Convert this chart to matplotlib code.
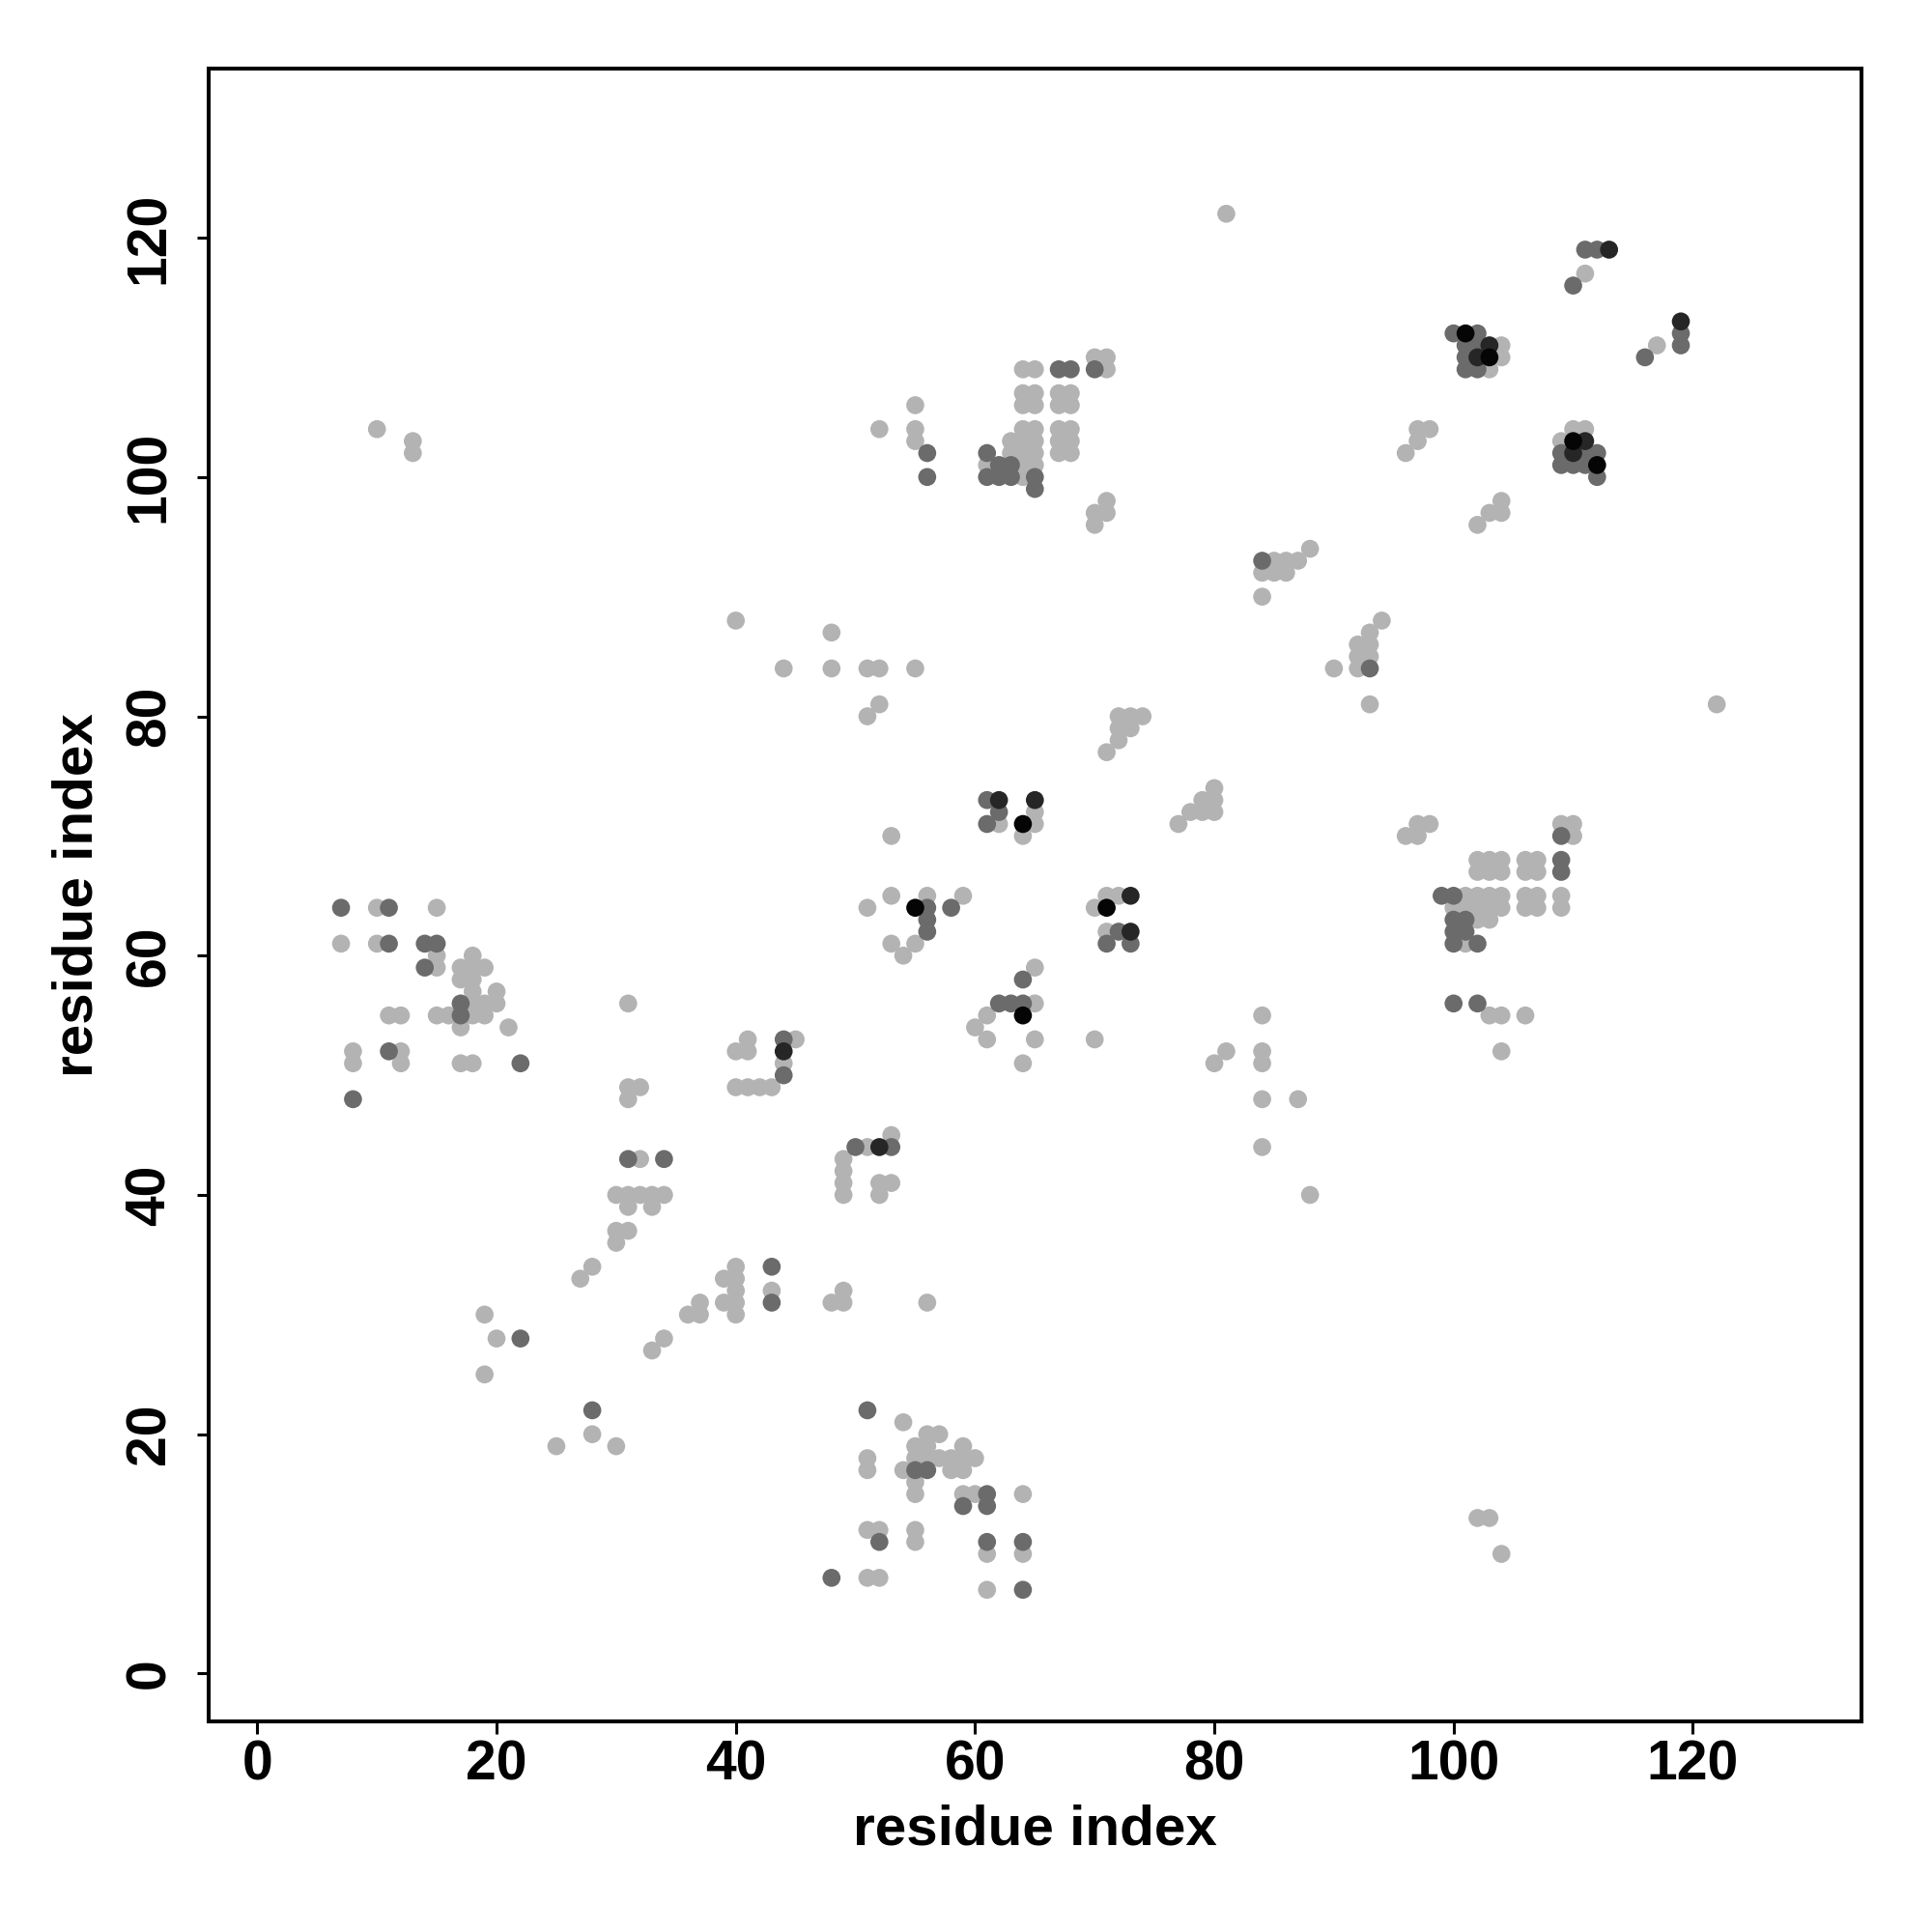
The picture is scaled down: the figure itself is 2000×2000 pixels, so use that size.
import matplotlib
matplotlib.use("Agg")
import matplotlib.pyplot as plt

plt.rcParams['font.family'] = ['Liberation Sans', 'DejaVu Sans']
plt.rcParams['font.weight'] = 'bold'

# Contacts by level (x = residue i, y = residue j)
light = [
    (81,122),(111,117),(104,111),(104,110),(103,109),(117,111),
    (110,104),(111,104),(109,103),(97,104),(98,104),(97,103),(96,102),
    (104,98),(103,97),(104,97),(102,96),(88,94),
    (85,93),(86,93),(87,93),(84,92),(85,92),(86,92),(84,90),
    (94,88),(93,87),(92,86),(93,86),(92,85),(93,85),(90,84),(92,84),(93,81),(122,81),
    (97,71),(98,71),(96,70),(97,70),(109,71),(110,71),(110,70),
    (102,68),(103,68),(104,68),(106,68),(107,68),(102,67),(103,67),(104,67),(106,67),(107,67),
    (101,65),(102,65),(103,65),(104,65),(106,65),(107,65),(109,65),
    (100,64),(101,64),(102,64),(103,64),(104,64),(106,64),(107,64),(109,64),
    (102,63),(103,63),(101,61),(103,55),(104,55),(106,55),(104,52),
    (84,55),(84,52),(84,51),(84,48),(87,48),(84,44),(88,40),
    (102,13),(103,13),(104,10),
    (70,110),(71,110),(71,109),(64,109),(65,109),
    (64,107),(65,107),(67,107),(68,107),(64,106),(65,106),(67,106),(68,106),
    (64,104),(65,104),(67,104),(68,104),(63,103),(64,103),(65,103),(67,103),(68,103),
    (63,102),(64,102),(65,102),(67,102),(68,102),(61,101),(64,101),(65,101),(64,100),
    (55,106),(52,104),(55,104),(55,103),(71,98),(70,97),(71,97),(70,96),
    (10,104),(13,103),(13,102),(40,88),(44,84),
    (48,87),(48,84),(51,84),(52,84),(55,84),(52,81),(51,80),
    (72,80),(73,80),(74,80),(72,79),(73,79),(72,78),(71,77),
    (80,74),(79,73),(80,73),(78,72),(79,72),(80,72),(77,71),
    (65,72),(62,71),(65,71),(64,70),
    (53,70),(51,64),(53,65),(56,65),(59,65),(71,65),(72,65),(70,64),
    (10,64),(15,64),(71,62),(53,61),(55,61),(54,60),
    (65,59),(65,56),(61,55),(60,54),(61,53),(65,53),(70,53),(64,51),(81,52),(80,51),(45,53),
    (53,45),(51,44),(49,43),(49,42),(49,41),(49,40),(52,41),(53,41),(52,40),
    (7,61),(10,61),(15,60),(15,59),
    (18,60),(17,59),(18,59),(19,59),(17,58),(18,58),(18,57),(20,57),(18,56),(19,56),(20,56),
    (15,55),(16,55),(18,55),(19,55),(17,54),(21,54),
    (11,55),(12,55),(8,52),(12,52),(8,51),(12,51),(17,51),(18,51),
    (31,56),(31,49),(32,49),(31,48),(32,43),
    (30,40),(31,40),(32,40),(33,40),(34,40),(31,39),(33,39),(30,37),(31,37),(30,36),
    (41,53),(40,52),(41,52),(44,51),(40,49),(41,49),(42,49),(43,49),
    (28,34),(27,33),(40,34),(39,33),(40,33),(40,32),(39,31),(40,31),(40,30),(37,31),(36,30),(37,30),(43,32),
    (34,28),(33,27),(19,30),(20,28),(19,25),(28,20),(25,19),(30,19),
    (49,32),(48,31),(49,31),(56,31),
    (54,21),(56,20),(57,20),(55,19),(56,19),(59,19),
    (55,18),(56,18),(57,18),(58,18),(59,18),(60,18),(51,18),
    (51,17),(54,17),(58,17),(59,17),(55,16),(55,15),(59,15),(60,15),(64,15),
    (51,12),(52,12),(55,12),(55,11),(61,10),(64,10),(51,8),(52,8),(61,7),
]
mid = [
    (111,119),(112,119),(110,116),
    (100,112),(102,112),(101,111),(102,111),(101,110),(101,109),(102,109),
    (116,110),(119,112),(119,111),
    (109,102),(111,102),(112,102),(109,101),(110,101),(111,101),(112,100),
    (84,93),(93,84),(109,70),(109,68),(109,67),
    (99,65),(100,65),(100,63),(101,63),(100,62),(101,62),(100,61),(102,61),(100,56),(102,56),
    (70,109),(67,109),(68,109),
    (61,102),(62,101),(63,101),(61,100),(62,100),(63,100),(65,100),(65,99),
    (56,102),(56,100),(61,73),(62,72),(61,71),
    (56,64),(58,64),(56,63),(56,62),(72,62),(71,61),(73,61),
    (64,58),(62,56),(63,56),(64,56),(50,44),(53,44),
    (7,64),(11,64),(11,61),(14,61),(15,61),(14,59),
    (17,56),(17,55),(11,52),(22,51),(8,48),
    (31,43),(34,43),(44,53),(44,50),
    (43,34),(43,31),(22,28),(28,22),
    (51,22),(55,17),(56,17),(59,14),(61,15),(61,14),(52,11),(61,11),(64,11),(48,8),(64,7),
]
dark = [
    (113,119),(119,113),(103,111),(102,110),(111,103),(110,102),
    (62,73),(65,73),(73,65),(73,62),(52,44),(44,52),
]
black = [
    (101,112),(103,110),(110,103),(112,101),(55,64),(64,71),(71,64),(64,55),
]

levels = [(light, "#b3b3b3"), (mid, "#6b6b6b"), (dark, "#262626"), (black, "#050505")]

xticks = [0, 20, 40, 60, 80, 100, 120]
yticks = [0, 20, 40, 60, 80, 100, 120]

fig = plt.figure(figsize=(20, 20), dpi=100)
ax = fig.add_axes([0.1078, 0.109, 0.8557, 0.8553])

for pts, col in levels:
    xs = [p[0] for p in pts]
    ys = [p[1] for p in pts]
    ax.scatter(xs, ys, s=180, c=col, edgecolors='none', zorder=3)

ax.set_xlim(-4.1, 134.1)
ax.set_ylim(-4.0, 134.1)
ax.set_xticks(xticks)
ax.set_yticks(yticks)
ax.set_xticklabels([str(t) for t in xticks], fontsize=41, fontweight='bold')
ax.set_yticklabels([str(t) for t in yticks], fontsize=41, fontweight='bold',
                   rotation=90, va='center')
ax.tick_params(axis='both', direction='out', length=9, width=2.2)
ax.tick_params(axis='x', pad=4)
ax.tick_params(axis='y', pad=15)
for sp in ax.spines.values():
    sp.set_linewidth(2.9)

ax.set_xlabel("residue index", fontsize=42, fontweight='bold', labelpad=10)
ax.set_ylabel("residue index", fontsize=42, fontweight='bold', labelpad=15)

fig.savefig("out.png", dpi=100, facecolor='white')
